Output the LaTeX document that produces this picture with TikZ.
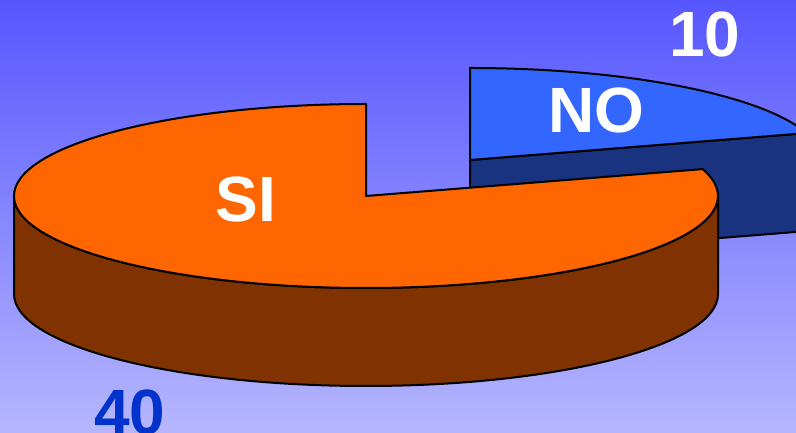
\documentclass[tikz,border=0pt]{standalone}
\usepackage{fontspec}
\setmainfont{Liberation Sans}

\definecolor{skytop}{RGB}{86,86,255}
\definecolor{skybottom}{RGB}{182,182,255}
\definecolor{sitop}{RGB}{255,102,0}
\definecolor{siside}{RGB}{128,51,0}
\definecolor{notop}{RGB}{51,102,255}
\definecolor{noside}{RGB}{25,51,128}
\definecolor{valueblue}{RGB}{0,51,204}

\tikzset{
    slice/.style  = {draw = black, line width = 2, line join = round, x radius = 352pt, y radius = 92pt},
    label/.style  = {font = \bfseries\fontsize{64}{64}\selectfont, inner sep = 0},
}

\begin{document}
\begin{tikzpicture}[x = 1pt, y = 1pt]
    \clip (0,0) rectangle (796,433);
    \shade [top color = skytop, bottom color = skybottom] (0,0) rectangle (796,433);

    \coordinate (si) at (366,237);
    \coordinate (no) at (470,273);

    % NO slice, pulled out
    \path [slice, fill = noside] (no) -- ++(17:352pt and 92pt) -- ++(0,-98) -- ([yshift = -98pt]no) -- cycle;
    \path [slice, fill = notop]  (no) -- ++(90:352pt and 92pt) arc [start angle = 90, end angle = 17] -- cycle;

    % SI slice
    \path [slice, fill = siside] (14,237) -- ++(0,-98) arc [start angle = 180, end angle = 360] -- ++(0,98) arc [start angle = 0, end angle = -180] -- cycle;
    \path [slice, fill = sitop]  (si) -- ++(90:352pt and 92pt) arc [start angle = 90, end angle = 377] -- cycle;

    \node [label, text = white]     (sitext) at (246,234) {SI};
    \node [label, text = white]     (notext) at (596,323) {NO};
    \node [label, text = white]     (noval)  at (705,399) {10};
    \node [label, text = valueblue] (sival)  at (130,21)  {40};
\end{tikzpicture}
\end{document}
